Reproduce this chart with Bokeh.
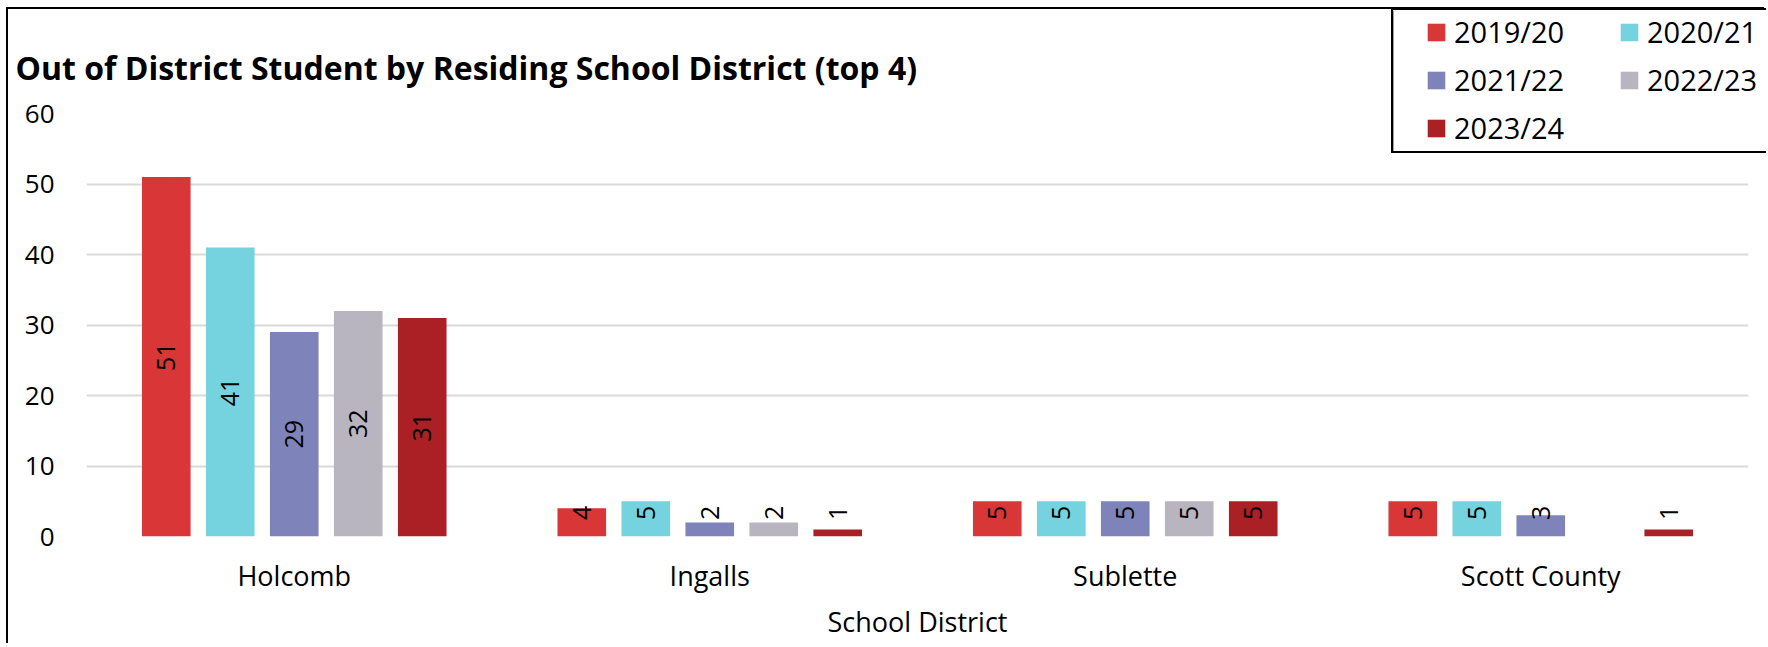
import math
from bokeh.plotting import figure
from bokeh.models import (ColumnDataSource, FactorRange, Range1d, FixedTicker,
                          Legend, LegendItem, Label)
from bokeh.transform import dodge
from bokeh.core.properties import value
from bokeh.embed import file_html
from bokeh.resources import INLINE

# ---------------- data ----------------
districts = ["Holcomb", "Ingalls", "Sublette", "Scott County"]
years = ["2019/20", "2020/21", "2021/22", "2022/23", "2023/24"]
v_2019_20 = [51, 4, 5, 5]
v_2020_21 = [41, 5, 5, 5]
v_2021_22 = [29, 2, 5, 3]
v_2022_23 = [32, 2, 5, None]
v_2023_24 = [31, 1, 5, 1]
series = [v_2019_20, v_2020_21, v_2021_22, v_2022_23, v_2023_24]
y_ticks = [0, 10, 20, 30, 40, 50, 60]
title_text = "Out of District Student by Residing School District (top 4)"
x_title = "School District"

# ---------------- style ----------------
colors = ["#D93638", "#75D2DF", "#7E84B9", "#B8B5C0", "#AA2024"]
offsets = [-0.308, -0.154, 0.0, 0.154, 0.308]
bar_w = 0.117
label_min = 3.36
FONT = "Open Sans"

p = figure(x_range=FactorRange(*districts), y_range=Range1d(0, 60),
           width=1758, height=636, output_backend="svg", toolbar_location=None,
           min_border_left=78, min_border_right=18, min_border_top=104,
           min_border_bottom=109,
           styles={"margin-left": "6px", "margin-top": "7px",
                   "border-left": "2px solid #000", "border-top": "2px solid #000"})
p.outline_line_color = None
p.background_fill_color = "white"
p.border_fill_color = "white"

for vals, col, off in zip(series, colors, offsets):
    tops = [float("nan") if v is None else v for v in vals]
    labels = ["" if v is None else str(v) for v in vals]
    ly = [0 if v is None else max(v / 2.0, label_min) for v in vals]
    src = ColumnDataSource(dict(x=districts, top=tops, label=labels, ly=ly))
    p.vbar(x=dodge("x", off, range=p.x_range), top="top", bottom=0, width=bar_w,
           source=src, fill_color=col, line_color=None)
    p.text(x=dodge("x", off, range=p.x_range), y="ly", text="label", source=src,
           angle=math.pi / 2, text_align="center", text_baseline="middle",
           text_font=value(FONT), text_font_size="25px", text_color="#000000")

# axes
p.xgrid.visible = False
p.ygrid.grid_line_color = "#D9D9D9"
p.ygrid.grid_line_width = 2
p.yaxis.ticker = FixedTicker(ticks=y_ticks)
for ax in (p.xaxis[0], p.yaxis[0]):
    ax.axis_line_color = None
    ax.major_tick_line_color = None
    ax.minor_tick_line_color = None
    ax.major_tick_out = 0
    ax.major_tick_in = 0
    ax.minor_tick_out = 0
    ax.minor_tick_in = 0
    ax.major_label_text_font = FONT
    ax.major_label_text_color = "#000000"
p.yaxis.major_label_text_font_size = "26px"
p.yaxis.major_label_standoff = 32
p.xaxis.major_label_text_font_size = "27px"
p.xaxis.major_label_standoff = 20
p.xaxis.axis_label = x_title
p.xaxis.axis_label_text_font = FONT
p.xaxis.axis_label_text_font_style = "normal"
p.xaxis.axis_label_text_font_size = "27px"
p.xaxis.axis_label_text_color = "#000000"
p.xaxis.axis_label_standoff = 6

# ---------------- title (own small figure, laid over the chart's top left) ----------------
tf = figure(width=920, height=60, output_backend="svg", toolbar_location=None,
            x_range=Range1d(0, 1), y_range=Range1d(0, 1),
            x_axis_type=None, y_axis_type=None, min_border=0,
            styles={"position": "absolute", "left": "10px", "top": "30px"})
tf.outline_line_color = None
tf.background_fill_color = "white"
tf.border_fill_color = "white"
tf.xgrid.visible = False
tf.ygrid.visible = False
tf.add_layout(Label(x=5, y=23, x_units="screen", y_units="screen", text=title_text,
                    text_font=FONT, text_font_style="bold", text_font_size="32px",
                    text_baseline="alphabetic", text_align="left",
                    text_color="#000000"))

# ---------------- legend (own small figure, laid over the chart's top right) ----------------
lf = figure(width=375, height=145, output_backend="svg", toolbar_location=None,
            x_range=Range1d(0, 1), y_range=Range1d(0, 1),
            x_axis_type=None, y_axis_type=None, min_border=0,
            styles={"position": "absolute", "left": "1391px", "top": "8px",
                    "border-left": "2px solid #000", "border-top": "2px solid #000",
                    "border-bottom": "2px solid #000"})
lf.outline_line_color = None
lf.background_fill_color = "white"
lf.border_fill_color = "white"
lf.xgrid.visible = False
lf.ygrid.visible = False
items = []
for yr, col in zip(years, colors):
    # swatch renderers: one point placed outside the visible range, only the legend shows it
    r = lf.vbar(x=[-5], top=[1], width=1, fill_color=col, line_color=None)
    items.append(LegendItem(label=yr, renderers=[r]))
legend = Legend(items=items, location=(32, 8), orientation="horizontal", ncols=2,
                glyph_width=22, glyph_height=22, label_standoff=7, label_width=155,
                label_height=38, spacing=9, padding=0, margin=0,
                border_line_color=None, background_fill_alpha=0.0,
                label_text_font=FONT, label_text_font_size="29px",
                label_text_color="#000000")
lf.add_layout(legend, "center")

open("out.html", "w").write(file_html([p, tf, lf], INLINE))
